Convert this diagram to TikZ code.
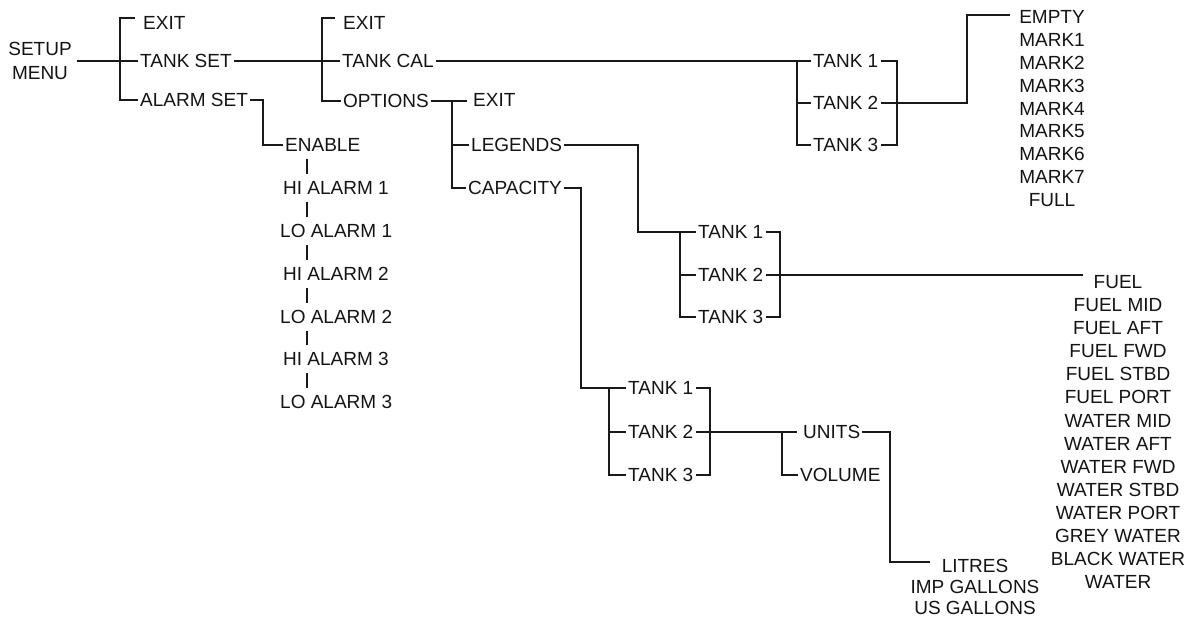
\documentclass[tikz,border=0pt]{standalone}
\usepackage{fontspec}
\setmainfont{Liberation Sans}
\begin{document}
\begin{tikzpicture}[x=1pt,y=-1pt,
  lbl/.style={font=\fontsize{19}{24}\selectfont, text=black!92, inner xsep=2pt, inner ysep=1pt, anchor=west},
  item/.style={lbl, anchor=center},
  conn/.style={line width=1.2pt, black!90}]
\useasboundingbox[fill=white] (0,0) rectangle (1196,621);

% ---- nodes ----
\node[item, align=center] (setup) at (40,61) {SETUP\\MENU};
\node[lbl] (exitA)    at (141,23)  {EXIT};
\node[lbl] (tankset)  at (138,61)  {TANK SET};
\node[lbl] (alarmset) at (138,100) {ALARM SET};

\node[lbl] (exitB)   at (341,23)  {EXIT};
\node[lbl] (tankcal) at (340,61)  {TANK CAL};
\node[lbl] (options) at (341,101) {OPTIONS};

\node[lbl] (exitC)    at (471,100) {EXIT};
\node[lbl] (legends)  at (469,145) {LEGENDS};
\node[lbl] (capacity) at (466,188) {CAPACITY};

\node[lbl] (t1a) at (811,61)  {TANK 1};
\node[lbl] (t2a) at (811,103) {TANK 2};
\node[lbl] (t3a) at (811,145) {TANK 3};

\foreach \t [count=\i from 0] in {EMPTY,MARK1,MARK2,MARK3,MARK4,MARK5,MARK6,MARK7,FULL}
  \node[item] (m\i) at (1052,{17+22.9*\i}) {\t};

\node[lbl] (t1b) at (696,232) {TANK 1};
\node[lbl] (t2b) at (696,275) {TANK 2};
\node[lbl] (t3b) at (696,317) {TANK 3};

\foreach \t [count=\i from 0] in {FUEL,FUEL MID,FUEL AFT,FUEL FWD,FUEL STBD,FUEL PORT,WATER MID,WATER AFT,WATER FWD,WATER STBD,WATER PORT,GREY WATER,BLACK WATER,WATER}
  \node[item] (f\i) at (1118,{282+23.08*\i}) {\t};

\node[lbl] (t1c) at (626,388) {TANK 1};
\node[lbl] (t2c) at (626,432) {TANK 2};
\node[lbl] (t3c) at (626,475) {TANK 3};

\node[lbl] (units)  at (801,432) {UNITS};
\node[lbl] (volume) at (798,475) {VOLUME};

\node[item] (litres) at (975,566) {LITRES};
\node[item] (imp)    at (975,587) {IMP GALLONS};
\node[item] (us)     at (975,608) {US GALLONS};

\node[lbl] (enable) at (283,145) {ENABLE};
\node[lbl] (hi1) at (281,188) {HI ALARM 1};
\node[lbl] (lo1) at (278,231) {LO ALARM 1};
\node[lbl] (hi2) at (281,274) {HI ALARM 2};
\node[lbl] (lo2) at (278,317) {LO ALARM 2};
\node[lbl] (hi3) at (281,359) {HI ALARM 3};
\node[lbl] (lo3) at (278,402) {LO ALARM 3};

% ---- junction coordinates ----
\coordinate (b1) at (120,61);
\coordinate (b2) at (322,61);
\coordinate (b3) at (797,61);
\coordinate (rb3) at (897,103);
\coordinate (j4) at (967,15);
\coordinate (emptyin) at (1010,15);
\coordinate (b5) at (452,101);
\coordinate (exitCin) at (467,101);
\coordinate (j6) at (638,232);
\coordinate (b7) at (680,232);
\coordinate (rb7) at (780,275);
\coordinate (fuelin) at (1083,275);
\coordinate (j8) at (581,388);
\coordinate (b9) at (609,388);
\coordinate (rb9) at (710,432);
\coordinate (b10) at (782,432);
\coordinate (unitsin) at (797,432);
\coordinate (j11) at (890,562);
\coordinate (litresin) at (930,562);
\coordinate (j12) at (263,120);
\coordinate (cx) at (307,0);

% ---- connectors ----
\draw[conn] ([xshift=3pt]setup.east) -- (tankset.west);
\draw[conn] ([shift={(-6,-5)}]exitA.west) -| (alarmset.west -| b1) -- (alarmset.west);

\draw[conn] (tankset.east) -- (tankcal.west);
\draw[conn] ([shift={(-6,-5)}]exitB.west) -| (options.west -| b2) -- (options.west);

\draw[conn] (tankcal.east) -- (t1a.west);
\draw[conn] (b3) |- (t3a.west);
\draw[conn] (b3 |- t2a) -- (t2a.west);
\draw[conn] (t1a.east) -| (rb3) |- (t3a.east);
\draw[conn] (t2a.east) -| (j4) -- (emptyin);

\draw[conn] (options.east) -- (exitCin);
\draw[conn] (b5) |- (capacity.west);
\draw[conn] (b5 |- legends) -- (legends.west);

\draw[conn] (legends.east) -| (j6) -- (t1b.west);
\draw[conn] (b7) |- (t3b.west);
\draw[conn] (b7 |- t2b) -- (t2b.west);
\draw[conn] (t1b.east) -| (rb7) |- (t3b.east);
\draw[conn] (t2b.east) -- (fuelin);

\draw[conn] (capacity.east) -| (j8) -- (t1c.west);
\draw[conn] (b9) |- (t3c.west);
\draw[conn] (b9 |- t2c) -- (t2c.west);
\draw[conn] (t1c.east) -| (rb9) |- (t3c.east);
\draw[conn] (t2c.east) -- (unitsin);
\draw[conn] (b10) |- (volume.west);
\draw[conn] (units.east) -| (j11) -- (litresin);

\draw[conn] (alarmset.east) -| (j12) |- (enable.west);
\foreach \a/\b in {enable/hi1,hi1/lo1,lo1/hi2,hi2/lo2,lo2/hi3,hi3/lo3}
  \draw[conn] ([yshift=-6pt]\a.south -| cx) -- ([yshift=6pt]\b.north -| cx);
\end{tikzpicture}
\end{document}
